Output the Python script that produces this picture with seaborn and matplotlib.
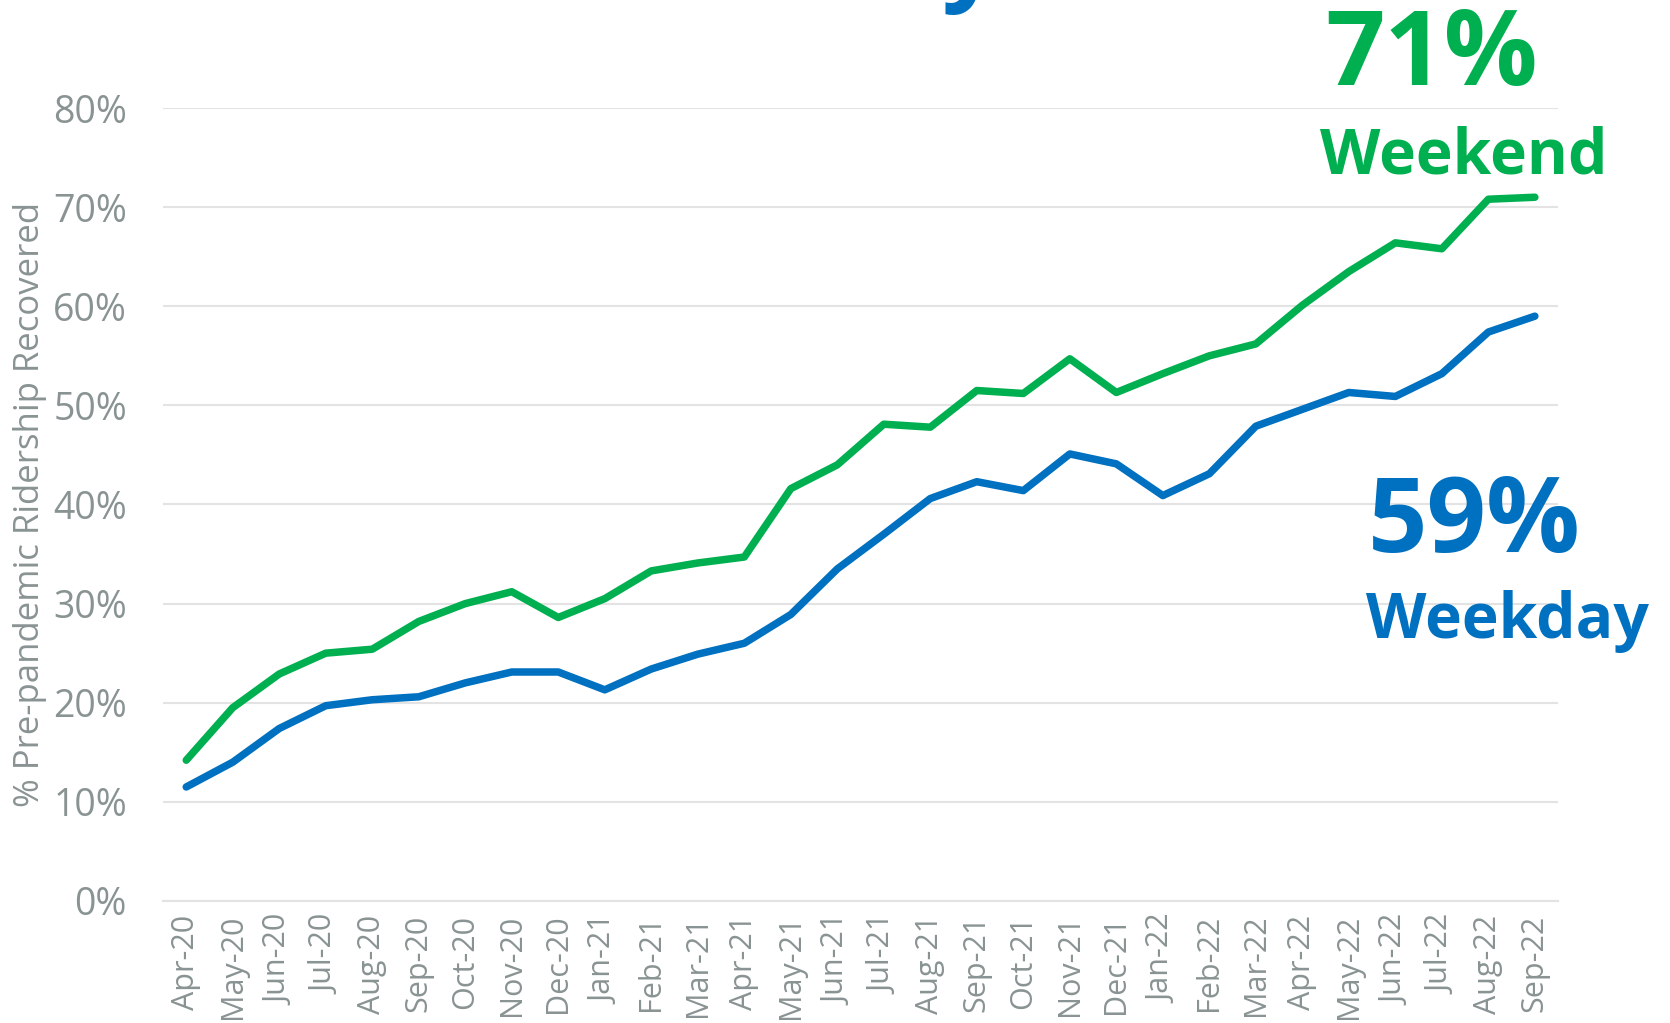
import numpy as np
import pandas as pd
import matplotlib
matplotlib.use("Agg")
import matplotlib.pyplot as plt
import seaborn as sns

months = ["Apr-20", "May-20", "Jun-20", "Jul-20", "Aug-20", "Sep-20", "Oct-20", "Nov-20",
          "Dec-20", "Jan-21", "Feb-21", "Mar-21", "Apr-21", "May-21", "Jun-21", "Jul-21",
          "Aug-21", "Sep-21", "Oct-21", "Nov-21", "Dec-21", "Jan-22", "Feb-22", "Mar-22",
          "Apr-22", "May-22", "Jun-22", "Jul-22", "Aug-22", "Sep-22"]
weekend = [14.2, 19.5, 22.9, 25.0, 25.4, 28.2, 30.0, 31.2, 28.6, 30.5, 33.3, 34.1, 34.7,
           41.6, 44.0, 48.1, 47.8, 51.5, 51.2, 54.7, 51.3, 53.2, 55.0, 56.2, 60.1, 63.5,
           66.4, 65.8, 70.8, 71.0]
weekday = [11.5, 14.0, 17.4, 19.7, 20.3, 20.6, 22.0, 23.1, 23.1, 21.3, 23.4, 24.9, 26.0,
           28.9, 33.5, 37.0, 40.6, 42.3, 41.4, 45.1, 44.1, 40.9, 43.1, 47.9, 49.6, 51.3,
           50.9, 53.2, 57.4, 59.0]
yticks = [0, 10, 20, 30, 40, 50, 60, 70, 80]

GREEN = "#00B050"
BLUE = "#0070C0"
GRAY = "#8A9393"

sns.set_theme(style="white")
plt.rcParams["font.family"] = ["Open Sans", "DejaVu Sans"]

idx = np.arange(len(months))
df = pd.concat([
    pd.DataFrame({"idx": idx, "value": weekend, "series": "Weekend"}),
    pd.DataFrame({"idx": idx, "value": weekday, "series": "Weekday"}),
])

fig = plt.figure(figsize=(16.7, 10.23), dpi=100)
ax = fig.add_axes([0.0976, 0.1193, 0.9330 - 0.0976, 0.8944 - 0.1193])

sns.lineplot(data=df, x="idx", y="value", hue="series",
             palette={"Weekend": GREEN, "Weekday": BLUE},
             linewidth=5.4, ax=ax, legend=False, solid_capstyle="round")

ax.set_xlim(-0.5, len(months) - 0.5)
ax.set_ylim(0, 80)
ax.set_yticks(yticks)
ax.set_yticklabels([f"{v}%" for v in yticks], fontsize=27, color=GRAY)
ax.set_xticks(idx)
ax.set_xticklabels(months, rotation=90, fontsize=22, color=GRAY)
ax.tick_params(axis="y", length=0, pad=26)
ax.tick_params(axis="x", length=0, pad=10)
ax.grid(axis="y", color="#E3E3E3", linewidth=1.5)
ax.set_axisbelow(True)
for s in ["top", "right", "left"]:
    ax.spines[s].set_visible(False)
ax.spines["bottom"].set_color("#E3E3E3")
ax.spines["bottom"].set_linewidth(1.5)
ax.set_xlabel("")
ax.set_ylabel("% Pre-pandemic Ridership Recovered", fontsize=25, color=GRAY, labelpad=4)

# Annotations
fig.text(1325 / 1670, 1 - 85 / 1023, "71%", color=GREEN, fontsize=75, fontweight="bold",
         ha="left", va="baseline")
fig.text(1320 / 1670, 1 - 173 / 1023, "Weekend", color=GREEN, fontsize=45, fontweight="bold",
         ha="left", va="baseline")
fig.text(1368 / 1670, 1 - 552 / 1023, "59%", color=BLUE, fontsize=75, fontweight="bold",
         ha="left", va="baseline")
fig.text(1366 / 1670, 1 - 638 / 1023, "Weekday", color=BLUE, fontsize=45, fontweight="bold",
         ha="left", va="baseline")
# Title cut off at top of the image (only descender visible)
fig.text(1000 / 1670, 1 + 9 / 1023, "Weekday", color=BLUE, fontsize=73, fontweight="bold",
         ha="right", va="baseline")

fig.savefig("out.png", dpi=100)
